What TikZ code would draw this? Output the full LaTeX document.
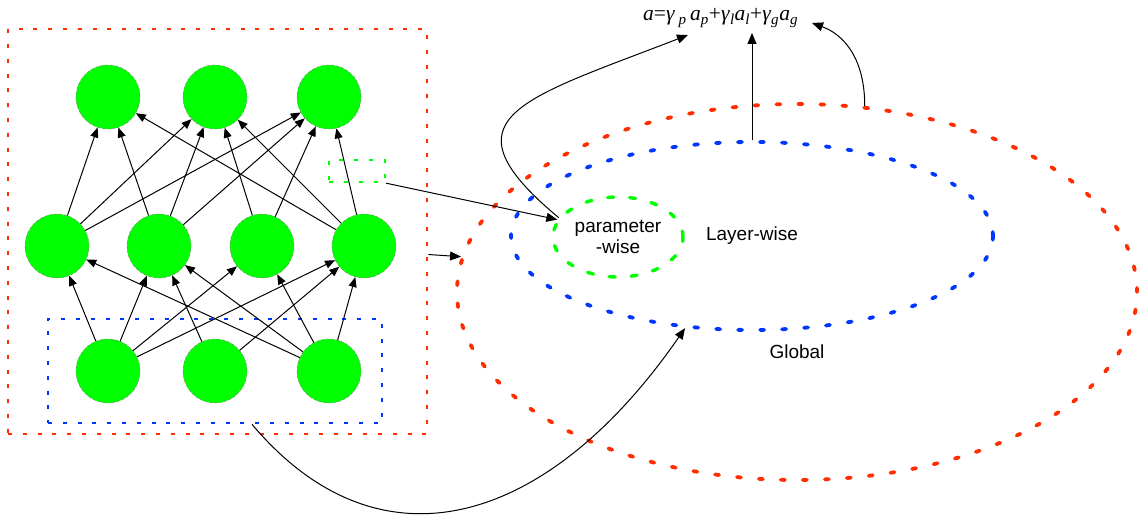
\documentclass[tikz,border=0pt]{standalone}
\usepackage{fontspec}
\setmainfont{Liberation Sans}
\newfontfamily\tms{Liberation Serif}
\usetikzlibrary{arrows.meta,shapes.geometric,calc}
\definecolor{myred}{RGB}{255,45,0}
\definecolor{myblue}{RGB}{0,55,255}
\definecolor{mygreen}{RGB}{0,255,0}
\begin{document}
\begin{tikzpicture}[x=1pt,y=-1pt,
 neuron/.style={circle,minimum size=64pt,inner sep=0pt,fill=mygreen,draw=gray,densely dashed,line width=0.4pt},
 arr/.style={-{Triangle[length=10pt,width=8pt]},line width=1pt,black},
 bigarr/.style={-{Triangle[length=11pt,width=9pt]},line width=1pt,black},
 rectdot/.style={rectangle,inner sep=0pt,line width=2.6pt,dash pattern=on 4pt off 10.8pt},
 elldot/.style={ellipse,inner sep=0pt,line width=3.8pt,line cap=round,dash pattern=on 4pt off 18pt},
 lbl/.style={font=\fontsize{19}{21.5}\selectfont,align=center}
]
\useasboundingbox (0,0) rectangle (1144,516);

% containers
\node[rectdot,draw=myred,minimum width=419pt,minimum height=405pt] (rr) at (217.5,231.5) {};
\node[rectdot,draw=myblue,minimum width=334pt,minimum height=104pt] (br) at (215,371) {};

% ellipses
\node[elldot,draw=myred,minimum width=680pt,minimum height=376pt] (rd) at (797,292) {};
\node[elldot,draw=myblue,minimum width=482pt,minimum height=188pt,lbl] (bl) at (752,236) {Layer-wise};
\node[elldot,draw=mygreen,minimum width=130pt,minimum height=80pt,lbl,line width=3.4pt,dash pattern=on 6pt off 16pt] (gr) at (618,237) {parameter\\-wise};
\node[lbl] (gl) at (797,352) {Global};

% neurons
\node[neuron] (t1) at (108,97) {};
\node[neuron] (t2) at (215,97) {};
\node[neuron] (t3) at (329,97) {};
\node[neuron] (m1) at (57,246) {};
\node[neuron] (m2) at (159,246) {};
\node[neuron] (m3) at (262,246) {};
\node[neuron] (m4) at (364,246) {};
\node[neuron] (b1) at (108,371) {};
\node[neuron] (b2) at (215,371) {};
\node[neuron] (b3) at (329,371) {};

\foreach \m/\t in {m1/t1,m2/t1,m4/t1,m1/t2,m2/t2,m3/t2,m4/t2,m1/t3,m2/t3,m3/t3,m4/t3}
  \draw[arr] (\m) -- (\t);
\foreach \b/\m in {b1/m1,b3/m1,b1/m2,b2/m2,b3/m2,b1/m3,b3/m3,b1/m4,b2/m4,b3/m4}
  \draw[arr] (\b) -- (\m);

% small green box
\node[rectangle,inner sep=0pt,draw=mygreen,line width=2.4pt,dash pattern=on 4pt off 11pt,minimum width=56pt,minimum height=22pt] (gs) at (357,171) {};

% formula
\node[inner sep=0pt,anchor=base west,font=\tms\fontsize{21.5}{23}\selectfont] (f) at (643,21)
 {\textit{a}=\textit{γ}\,\textsubscript{\textit{p}}\,\textit{a}\textsubscript{\textit{p}}+\textit{γ}\textsubscript{\textit{l}}\textit{a}\textsubscript{\textit{l}}+\textit{γ}\textsubscript{\textit{g}}\textit{a}\textsubscript{\textit{g}}};
\coordinate (f1) at ($(f.base west)+(45,14)$);
\coordinate (f2) at ($(f.base west)+(106,12)$);
\coordinate (f3) at ($(f.base west)+(169,2)$);

% connectors
\draw[bigarr] (gs.south east) -- (gr.164);
\draw[bigarr] ([yshift=-23pt]rr.east) -- (rd.174);
\draw[bigarr] (gr.162) .. controls +(-120,-100) and +(-168,65) .. (f1);
\draw[bigarr] (bl.north) -- (bl.north |- f2);
\draw[bigarr] (rd.70) .. controls +(0,-46) and +(33,12) .. (f3);
\draw[bigarr] ([xshift=37pt]br.south) .. controls +(128,152) and +(-137,198) .. (bl.-126);
\end{tikzpicture}
\end{document}
